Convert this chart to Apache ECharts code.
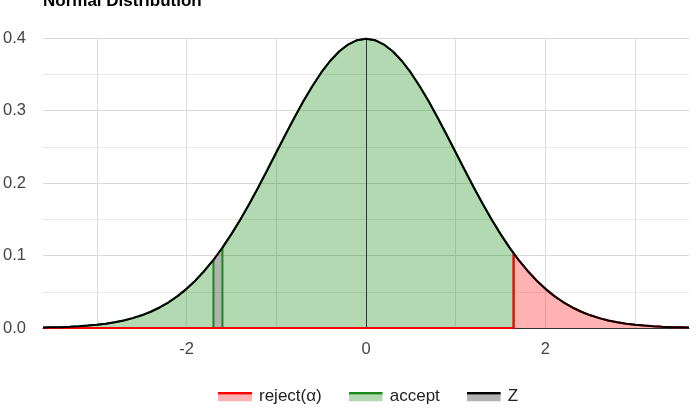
<!DOCTYPE html>
<html>
<head>
<meta charset="utf-8">
<script src="https://cdn.jsdelivr.net/npm/echarts@6/dist/echarts.min.js"></script>
<style>
html,body{margin:0;padding:0;background:#fff;}
#chart{width:696px;height:410px;}
</style>
</head>
<body>
<div id="chart"></div>
<script>
// ---- data ----
const titleText = 'Normal Distribution';
const seriesNames = ['reject(α)', 'accept', 'Z'];
const xValues = [
  -3.6, -3.5, -3.4, -3.3, -3.2, -3.1, -3.0, -2.9, -2.8, -2.7, -2.6, -2.5, -2.4, -2.3, -2.2, -2.1,
  -2.0, -1.9, -1.8, -1.7, -1.6, -1.5, -1.4, -1.3, -1.2, -1.1, -1.0, -0.9, -0.8, -0.7, -0.6, -0.5,
  -0.4, -0.3, -0.2, -0.1, 0.0, 0.1, 0.2, 0.3, 0.4, 0.5, 0.6, 0.7, 0.8, 0.9, 1.0, 1.1,
  1.2, 1.3, 1.4, 1.5, 1.6, 1.7, 1.8, 1.9, 2.0, 2.1, 2.2, 2.3, 2.4, 2.5, 2.6, 2.7,
  2.8, 2.9, 3.0, 3.1, 3.2, 3.3, 3.4, 3.5, 3.6
];
const density = [
  0.0006, 0.0009, 0.0012, 0.0017, 0.0024, 0.0033, 0.0044, 0.0060, 0.0079, 0.0104, 0.0136, 0.0175, 0.0224, 0.0283, 0.0355, 0.0440,
  0.0540, 0.0656, 0.0790, 0.0940, 0.1109, 0.1295, 0.1497, 0.1714, 0.1942, 0.2179, 0.2420, 0.2661, 0.2897, 0.3123, 0.3332, 0.3521,
  0.3683, 0.3814, 0.3910, 0.3970, 0.3989, 0.3970, 0.3910, 0.3814, 0.3683, 0.3521, 0.3332, 0.3123, 0.2897, 0.2661, 0.2420, 0.2179,
  0.1942, 0.1714, 0.1497, 0.1295, 0.1109, 0.0940, 0.0790, 0.0656, 0.0540, 0.0440, 0.0355, 0.0283, 0.0224, 0.0175, 0.0136, 0.0104,
  0.0079, 0.0060, 0.0044, 0.0033, 0.0024, 0.0017, 0.0012, 0.0009, 0.0006
];
const criticalZ = 1.645;
const criticalDensity = 0.1031;
const zBand = [-1.7, -1.6];
const xTickLabels = [-2, 0, 2];
const yTickLabels = ['0.0', '0.1', '0.2', '0.3', '0.4'];

// ---- build series data ----
const curveData = xValues.map((x, i) => [x, density[i]]);

const acceptData = [];
xValues.forEach((x, i) => {
  if (x > criticalZ) return;
  if (x === zBand[0]) { acceptData.push([x, density[i]], [x, 0]); }
  else if (x === zBand[1]) { acceptData.push([x, 0], [x, density[i]]); }
  else acceptData.push([x, density[i]]);
});
acceptData.push([criticalZ, criticalDensity], [criticalZ, 0]);

const rejectData = [[xValues[0], 0], [criticalZ, 0], [criticalZ, criticalDensity]];
xValues.forEach((x, i) => { if (x > criticalZ) rejectData.push([x, density[i]]); });

const bandData = xValues.map((x, i) => [x, density[i]]).filter(p => p[0] >= zBand[0] && p[0] <= zBand[1]);

function iconSvg(line, fill) {
  const svg = "<svg xmlns='http://www.w3.org/2000/svg' width='34' height='10'>" +
    "<rect x='0' y='3' width='34' height='7' fill='" + fill + "'/>" +
    "<rect x='0' y='0' width='34' height='3' fill='" + line + "'/></svg>";
  return 'image://data:image/svg+xml;charset=utf-8,' + encodeURIComponent(svg);
}

const FONT = 'Arial, "Liberation Sans", sans-serif';
const chart = echarts.init(document.getElementById('chart'), null, {renderer: 'canvas'});
chart.setOption({
  animation: false,
  backgroundColor: '#ffffff',
  title: {
    text: titleText, left: 38, top: -12,
    textStyle: {fontFamily: FONT, fontSize: 17, fontWeight: 'bold', color: '#000'}
  },
  grid: {left: 43, right: 7, top: 38, bottom: 82, containLabel: false},
  legend: {
    left: 213, top: 383, itemWidth: 34, itemHeight: 10, itemGap: 27,
    textStyle: {fontFamily: FONT, fontSize: 17, color: '#222', padding: [0, 0, 0, 2]},
    data: [
      {name: seriesNames[0], icon: iconSvg('#ff0000', 'rgba(255,0,0,0.3)')},
      {name: seriesNames[1], icon: iconSvg('#1a8a1a', 'rgba(0,128,0,0.3)')},
      {name: seriesNames[2], icon: iconSvg('#000000', 'rgba(0,0,0,0.3)')}
    ]
  },
  xAxis: {
    type: 'value', min: xValues[0], max: xValues[xValues.length - 1],
    minInterval: 1, maxInterval: 1,
    axisLine: {show: true, onZero: false, lineStyle: {color: '#333', width: 1}},
    axisTick: {show: false},
    axisLabel: {
      fontFamily: FONT, fontSize: 16.5, color: '#444', margin: 13,
      showMinLabel: false, showMaxLabel: false,
      formatter: v => (xTickLabels.indexOf(Math.round(v * 10) / 10) >= 0 ? String(Math.round(v)) : '')
    },
    splitLine: {show: true, showMinLine: false, showMaxLine: false, lineStyle: {color: '#dedede', width: 1}}
  },
  yAxis: {
    type: 'value', min: 0, max: 0.4, interval: 0.1,
    axisLine: {show: false}, axisTick: {show: false},
    axisLabel: {
      fontFamily: FONT, fontSize: 16.5, color: '#444', margin: 17,
      formatter: v => yTickLabels[Math.round(v * 10)]
    },
    splitLine: {show: true, lineStyle: {color: '#d8d8d8', width: 1}},
    minorTick: {show: false, splitNumber: 2},
    minorSplitLine: {show: true, lineStyle: {color: '#e8e8e8', width: 1}}
  },
  series: [
    {
      name: seriesNames[2], type: 'line', data: bandData, z: 2,
      symbol: 'none', lineStyle: {width: 0, color: '#000'},
      areaStyle: {color: 'rgba(0,0,0,0.3)', opacity: 1}, silent: true
    },
    {
      name: seriesNames[1], type: 'line', data: acceptData, z: 3,
      symbol: 'none', lineStyle: {width: 2, color: '#1a8a1a'},
      areaStyle: {color: 'rgba(0,128,0,0.3)', opacity: 1}, silent: true,
      markLine: {
        silent: true, symbol: 'none', label: {show: false},
        lineStyle: {color: '#333', width: 1, type: 'solid'},
        data: [{xAxis: 0}]
      }
    },
    {
      name: seriesNames[0], type: 'line', data: rejectData, z: 4,
      symbol: 'none', lineStyle: {width: 2, color: '#ff0000'},
      areaStyle: {color: 'rgba(255,0,0,0.3)', opacity: 1}, silent: true
    },
    {
      name: seriesNames[2], type: 'line', data: curveData, z: 5,
      symbol: 'none', lineStyle: {width: 2, color: '#000'}, silent: true
    }
  ]
});
</script>
</body>
</html>
